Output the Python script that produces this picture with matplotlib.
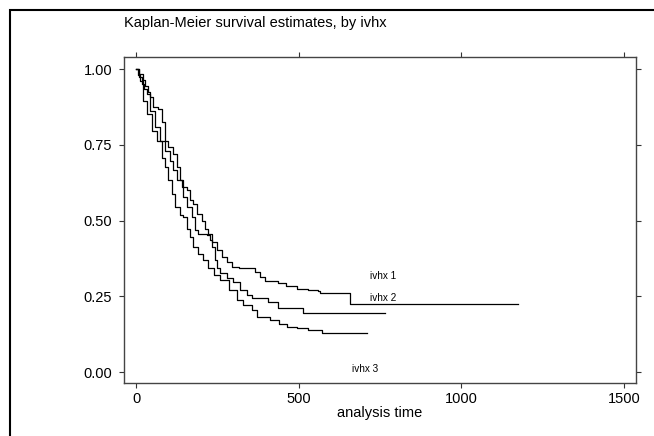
import numpy as np
import matplotlib
matplotlib.use("Agg")
import matplotlib.pyplot as plt
from matplotlib.patches import Rectangle

# survival curves (time, survival)
t_ivhx1 = [0, 10, 20, 28, 36, 43, 53, 69, 79, 89, 99, 115, 125, 135, 145, 156, 166, 176,
           187, 202, 212, 222, 233, 248, 263, 279, 294, 315, 366, 380, 397, 437, 460,
           495, 530, 560, 565, 658, 1175]
s_ivhx1 = [1.0, 0.985, 0.965, 0.945, 0.925, 0.907, 0.874, 0.869, 0.825, 0.764, 0.742,
           0.72, 0.676, 0.633, 0.611, 0.60, 0.567, 0.556, 0.523, 0.50, 0.473, 0.457,
           0.429, 0.402, 0.38, 0.363, 0.347, 0.342, 0.33, 0.315, 0.30, 0.295, 0.285,
           0.273, 0.27, 0.267, 0.26, 0.224, 0.224]

t_ivhx2 = [0, 8, 17, 25, 33, 43, 58, 74, 89, 104, 115, 125, 140, 145, 156, 171, 180,
           192, 217, 227, 233, 243, 248, 258, 280, 298, 320, 340, 356, 406, 437, 504,
           513, 765]
s_ivhx2 = [1.0, 0.975, 0.95, 0.935, 0.918, 0.863, 0.808, 0.764, 0.73, 0.698, 0.666,
           0.633, 0.611, 0.578, 0.545, 0.512, 0.468, 0.457, 0.451, 0.435, 0.413, 0.369,
           0.342, 0.326, 0.31, 0.297, 0.27, 0.255, 0.244, 0.231, 0.21, 0.21, 0.194, 0.194]

t_ivhx3 = [0, 6, 12, 22, 33, 48, 64, 79, 89, 99, 110, 120, 135, 145, 156, 166, 176,
           192, 207, 222, 240, 258, 285, 310, 330, 356, 372, 412, 440, 464, 495, 530,
           566, 572, 710]
s_ivhx3 = [1.0, 0.98, 0.96, 0.896, 0.853, 0.797, 0.764, 0.708, 0.676, 0.633, 0.589,
           0.545, 0.517, 0.512, 0.473, 0.446, 0.413, 0.391, 0.369, 0.342, 0.32, 0.303,
           0.27, 0.237, 0.22, 0.204, 0.181, 0.171, 0.16, 0.148, 0.145, 0.14, 0.138,
           0.128, 0.128]

group_labels = ["ivhx 1", "ivhx 2", "ivhx 3"]
label_pos = [(759, 0.316), (759, 0.244), (704, 0.01)]

x_ticks = [0, 500, 1000, 1500]
y_ticks = [0.0, 0.25, 0.5, 0.75, 1.0]

plt.rcParams['font.family'] = ['Liberation Sans', 'DejaVu Sans']

fig = plt.figure(figsize=(6.54, 4.36), dpi=100)
ax = fig.add_axes([0.1896, 0.1216, 0.7829, 0.7477])

for t, s in [(t_ivhx1, s_ivhx1), (t_ivhx2, s_ivhx2), (t_ivhx3, s_ivhx3)]:
    ax.plot(t, s, drawstyle='steps-post', color='black', lw=0.9)

for lab, (x, y) in zip(group_labels, label_pos):
    ax.text(x, y, lab, fontsize=7.2, ha='center', va='center')

ax.set_xlim(-37, 1537)
ax.set_ylim(-0.036, 1.04)
ax.set_xticks(x_ticks)
ax.set_yticks(y_ticks)
ax.set_yticklabels([f"{v:.2f}" for v in y_ticks])
ax.tick_params(direction='out', length=3.6, width=0.8, color='#333333',
               labelsize=10.5, top=True, right=True, pad=3)
ax.tick_params(axis='y', pad=5)
for sp in ax.spines.values():
    sp.set_color('#444444')
    sp.set_linewidth(1.0)

ax.set_xlabel("analysis time", fontsize=10.5, labelpad=0)
fig.text(124 / 654, 1 - 23 / 436, "Kaplan-Meier survival estimates, by ivhx",
         fontsize=10.5, ha='left', va='center')

# outer frame, cut off at the right and bottom edges
fig.patches.append(Rectangle((10 / 654, -0.1), 1.2, 1 - 10 / 436 + 0.1,
                             transform=fig.transFigure, fill=False,
                             edgecolor='black', lw=1.5))

fig.savefig("out.png", dpi=100)
